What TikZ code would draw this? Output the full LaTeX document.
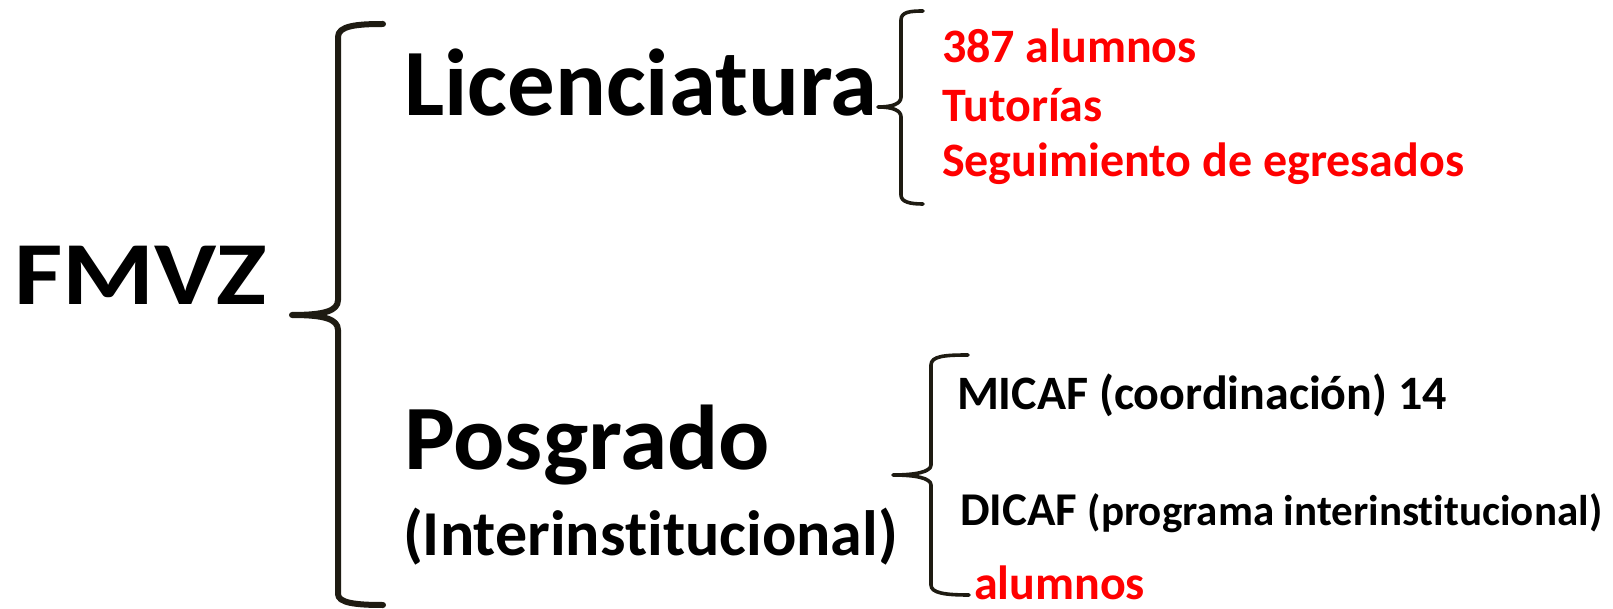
\documentclass[tikz,border=0pt]{standalone}
\usepackage{fontspec}
\setmainfont{Carlito}[Ligatures=NoCommon]
\definecolor{bracecol}{HTML}{1E1B12}
\definecolor{redtxt}{HTML}{FF0000}
\begin{document}
\begin{tikzpicture}[x=1pt,y=-1pt,
  lbl/.style={anchor=base west,inner sep=0pt,outer sep=0pt,font=\bfseries},
  bigbrace/.style={draw=bracecol,line width=6pt,line cap=round,line join=round},
  smallbrace/.style={draw=bracecol,line width=3.6pt,line cap=round,line join=round}]
\useasboundingbox (0,0) rectangle (1613,609);
% main labels
\node[lbl,font=\bfseries\fontsize{90}{90}\selectfont] (fmvz) at (14,305) {\scalebox{1.17}[1]{FMVZ}};
\node[lbl,font=\bfseries\fontsize{95}{95}\selectfont] (lic) at (404,116) {Licenciatura};
\node[lbl,font=\bfseries\fontsize{92}{92}\selectfont] (pos) at (404,469) {\scalebox{1.04}[1]{Posgrado}};
\node[lbl,font=\bfseries\fontsize{64}{64}\selectfont] (inter) at (403,555) {(Interinstitucional)};
% licenciatura items
\node[lbl,text=redtxt,font=\bfseries\fontsize{48}{48}\selectfont] (l1) at (942,63) {387 alumnos};
\node[lbl,text=redtxt,font=\bfseries\fontsize{48}{48}\selectfont] (l2) at (942,122) {Tutorías};
\node[lbl,text=redtxt,font=\bfseries\fontsize{48}{48}\selectfont] (l3) at (942,177) {Seguimiento de egresados};
% posgrado items
\node[lbl,font=\bfseries\fontsize{48}{48}\selectfont] (p1) at (957,409) {MICAF (coordinación) 14};
\node[lbl,font=\bfseries\fontsize{47}{47}\selectfont] (p2) at (960,525) {DICAF {\fontsize{43}{43}\selectfont(programa interinstitucional)}};
\node[lbl,text=redtxt,font=\bfseries\fontsize{48}{48}\selectfont] (p3) at (974,599) {alumnos};
% braces
\coordinate (mtip) at (292,315);
\coordinate (mtop) at (383,24);
\coordinate (mbot) at (383,605);
\draw[bigbrace] (mtop) .. controls (356,24) and (338,26) .. (338,37) -- (338,300)
  .. controls (338,311) and (324,315) .. (mtip)
  .. controls (324,315) and (338,319) .. (338,330) -- (338,594)
  .. controls (338,603) and (356,605) .. (mbot);
\coordinate (atip) at (878,107);
\coordinate (atop) at (923,11);
\coordinate (abot) at (923,204);
\draw[smallbrace] (atop) .. controls (910,11) and (901,12) .. (901,20) -- (901,97)
  .. controls (901,104) and (892,107) .. (atip)
  .. controls (892,107) and (901,110) .. (901,117) -- (901,195)
  .. controls (901,202) and (910,204) .. (abot);
\coordinate (btip) at (893,475);
\coordinate (btop) at (968,355);
\coordinate (bbot) at (969,595);
\draw[smallbrace] (btop) .. controls (945,355) and (931,356) .. (931,365) -- (931,465)
  .. controls (931,472) and (915,475) .. (btip)
  .. controls (915,475) and (931,478) .. (931,485) -- (931,585)
  .. controls (931,593) and (945,595) .. (bbot);
\end{tikzpicture}
\end{document}
